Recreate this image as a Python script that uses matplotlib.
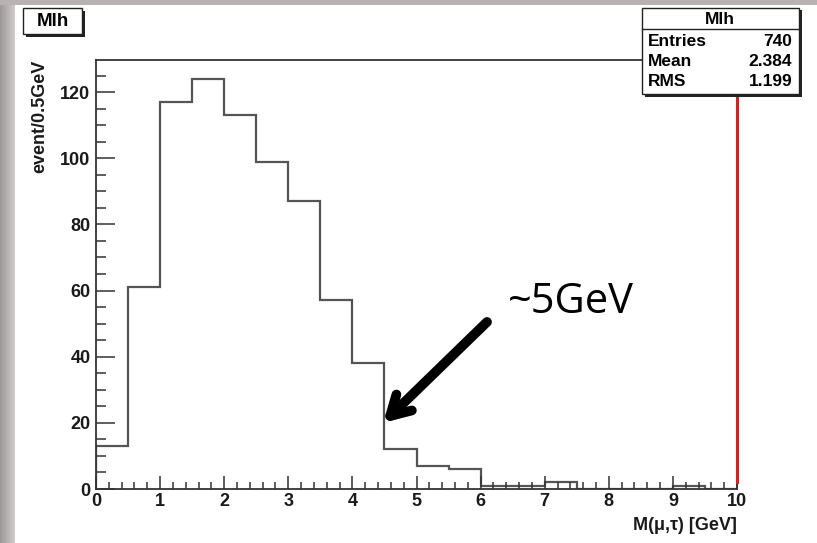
import numpy as np
import matplotlib.pyplot as plt
from matplotlib.patches import Rectangle

# M(mu,tau) histogram, 0.5 GeV bins from 0 to 10
bin_edges = np.arange(0, 10.5, 0.5)
counts = [13, 61, 117, 124, 113, 99, 87, 57, 38, 12,
          7, 6, 1, 1, 2, 0, 0, 0, 1, 0]

hist_name = "Mlh"
stat_names = ["Entries", "Mean", "RMS"]
stat_values = ["740", "2.384", "1.199"]

note_text = "~5GeV"
note_target = (4.48, 20)
note_from = (6.1, 50.5)

W, H = 817, 543
fig = plt.figure(figsize=(W / 100, H / 100), dpi=100)
fig.patch.set_facecolor("white")

# grey slide border on the left and top
bg = fig.add_axes([0, 0, 1, 1], zorder=-5)
bg.set_xlim(0, W)
bg.set_ylim(H, 0)
bg.axis("off")
grad = np.linspace(0, 1, 40)[None, :]
bg.imshow(np.dstack([0.62 + 0.2 * grad, 0.60 + 0.2 * grad, 0.60 + 0.2 * grad]),
          extent=[0, 15, H, 0], aspect="auto")
bg.add_patch(Rectangle((0, 0), W, 5, color="#b9b2b3", lw=0))

frame_col = "#333333"
hist_col = "#555555"
text_col = "#1a1a1a"
root_font = "Liberation Sans"

ax = fig.add_axes([96 / W, 1 - 489 / H, (737 - 96) / W, (489 - 60) / H])
ax.stairs(counts, bin_edges, color=hist_col, lw=1.6, baseline=0)
ax.set_xlim(0, 10)
ax.set_ylim(0, 129.7)

ax.set_xticks(np.arange(0, 11, 1))
ax.set_xticks(np.arange(0, 10.01, 0.2), minor=True)
ax.set_yticks(np.arange(0, 121, 20))
ax.set_yticks(np.arange(0, 126, 5), minor=True)
ax.tick_params(which="both", direction="in", color=frame_col, width=1.1,
               labelsize=13, top=False, right=False)
ax.tick_params(axis="y", which="major", length=14, pad=4)
ax.tick_params(axis="y", which="minor", length=7)
ax.tick_params(axis="x", which="major", length=9.5, pad=3)
ax.tick_params(axis="x", which="minor", length=5)
for lab in ax.get_xticklabels() + ax.get_yticklabels():
    lab.set_fontfamily(root_font)
    lab.set_fontweight("bold")
    lab.set_color(text_col)
for s in ax.spines.values():
    s.set_color(frame_col)
    s.set_linewidth(1.3)

ax.set_ylabel("event/0.5GeV", fontsize=13, fontweight="bold",
              family=root_font, color=text_col)
ax.yaxis.set_label_coords(-0.075, 1.0)
ax.yaxis.label.set_horizontalalignment("right")
ax.set_xlabel("M(\u03bc,\u03c4) [GeV]", fontsize=13, fontweight="bold",
              family=root_font, color=text_col)
ax.xaxis.set_label_coords(1.0, -0.066)
ax.xaxis.label.set_horizontalalignment("right")

# red marker line at the upper edge of the range
ax.plot([10, 10], [2, 119], color="#d42020", lw=2.2, clip_on=False, zorder=5)

# annotation arrow
ax.annotate("", xy=note_target, xytext=note_from,
            arrowprops=dict(arrowstyle="->,head_length=1.4,head_width=0.8",
                            color="black", lw=7, shrinkA=0, shrinkB=0))
ax.text(508 / W, 1 - 313 / H, note_text, transform=fig.transFigure,
        fontsize=30, family="Open Sans", color="black", va="baseline")


def root_box(x0, y0, x1, y1):
    # box in pixel coordinates with a ROOT-style drop shadow
    sh = 2.5
    fig.patches.append(Rectangle((x0 / W + sh / W, 1 - y1 / H - sh / H),
                                 (x1 - x0) / W, (y1 - y0) / H,
                                 transform=fig.transFigure, color="#222222",
                                 lw=0, zorder=8))
    fig.patches.append(Rectangle((x0 / W, 1 - y1 / H), (x1 - x0) / W,
                                 (y1 - y0) / H, transform=fig.transFigure,
                                 facecolor="white", edgecolor="#222222",
                                 lw=1.0, zorder=9))


# title box
root_box(23, 8, 82, 34)
fig.text(52.5 / W, 1 - 21.5 / H, hist_name, ha="center", va="center",
         fontsize=13.5, fontweight="bold", family=root_font, zorder=10)

# stats box
root_box(642, 8, 799, 94)
fig.add_artist(plt.Line2D([642 / W, 799 / W], [1 - 29 / H, 1 - 29 / H],
                          color="#222222", lw=1.0, zorder=10))
fig.text(720 / W, 1 - 19 / H, hist_name, ha="center", va="center",
         fontsize=12.5, fontweight="bold", family=root_font, zorder=10)
for i, (name, val) in enumerate(zip(stat_names, stat_values)):
    y = 1 - (41 + 20 * i) / H
    fig.text(648 / W, y, name, ha="left", va="center", fontsize=12.5,
             fontweight="bold", family=root_font, zorder=10)
    fig.text(792 / W, y, val, ha="right", va="center", fontsize=12.5,
             fontweight="bold", family=root_font, zorder=10)

fig.savefig("out.png", dpi=100)
